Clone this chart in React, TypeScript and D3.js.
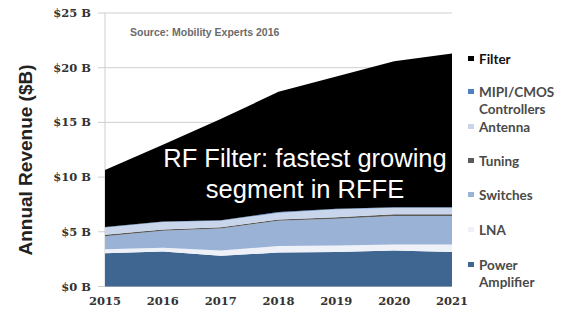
import React from "react"
import * as d3 from "d3"

// years on the x axis
const years = [2015, 2016, 2017, 2018, 2019, 2020, 2021]

// revenue per segment, $B
const powerAmp = [3.05, 3.2, 2.8, 3.1, 3.15, 3.3, 3.15]
const lna = [0.35, 0.35, 0.5, 0.6, 0.6, 0.55, 0.7]
const switches = [1.2, 1.55, 2.0, 2.3, 2.45, 2.6, 2.6]
const tuning = [0.12, 0.12, 0.12, 0.13, 0.14, 0.15, 0.15]
const antenna = [0.68, 0.68, 0.58, 0.62, 0.71, 0.6, 0.6]
const mipi = [0.05, 0.05, 0.05, 0.05, 0.05, 0.05, 0.05]
const filter = [5.2, 7.0, 9.25, 11.0, 12.1, 13.35, 14.05]

const seriesNames = ["Power Amplifier", "LNA", "Switches", "Tuning", "Antenna", "MIPI/CMOS Controllers", "Filter"]
const seriesColors = ["#3f6591", "#eef2f8", "#9bb2d7", "#5a5a5a", "#c8d5ea", "#4d80c0", "#000000"]
const yTicks = [0, 5, 10, 15, 20, 25]

const W = 563
const H = 315

export default function App() {
  const x = d3.scaleLinear().domain([2015, 2021]).range([105, 452])
  const y = d3.scaleLinear().domain([0, 25]).range([286.5, 13])

  const values = [powerAmp, lna, switches, tuning, antenna, mipi, filter]
  const rows = years.map((yr, i) => {
    const r: any = { year: yr }
    seriesNames.forEach((n, k) => (r[n] = values[k][i]))
    return r
  })
  const stacked = d3.stack().keys(seriesNames)(rows)
  const area = d3
    .area<any>()
    .x((d) => x(d.data.year))
    .y0((d) => y(d[0]))
    .y1((d) => y(d[1]))

  // legend, top to bottom
  const legend = [
    { name: "Filter", lines: ["Filter"], bold: true, y: 64 },
    { name: "MIPI/CMOS Controllers", lines: ["MIPI/CMOS", "Controllers"], y: 97 },
    { name: "Antenna", lines: ["Antenna"], y: 132 },
    { name: "Tuning", lines: ["Tuning"], y: 166 },
    { name: "Switches", lines: ["Switches"], y: 200 },
    { name: "LNA", lines: ["LNA"], y: 235 },
    { name: "Power Amplifier", lines: ["Power", "Amplifier"], y: 270 },
  ]

  return (
    <svg width={W} height={H} style={{ position: "absolute", left: 0, top: 0, background: "#fff" }}>
      {yTicks.map((t) => (
        <g key={t}>
          <line x1={98} x2={452} y1={y(t)} y2={y(t)} stroke="#cfcfcf" strokeWidth={1} />
          <text
            x={91}
            y={y(t) + 4}
            textAnchor="end"
            fontFamily="DejaVu Serif"
            fontWeight="bold"
            fontSize={11.5}
            fill="#333"
          >
            {`$${t} B`}
          </text>
        </g>
      ))}
      <line x1={105} x2={105} y1={13} y2={287} stroke="#cfcfcf" />

      {stacked.map((s, k) => (
        <path key={s.key} d={area(s) || ""} fill={seriesColors[k]} />
      ))}

      {years.map((yr) => (
        <text
          key={yr}
          x={x(yr)}
          y={305}
          textAnchor="middle"
          fontFamily="DejaVu Serif"
          fontWeight="bold"
          fontSize={11.5}
          fill="#333"
        >
          {yr}
        </text>
      ))}

      <text
        transform="translate(32,160) rotate(-90)"
        textAnchor="middle"
        fontFamily="Liberation Sans, Arial"
        fontWeight="bold"
        fontSize={19}
        fill="#222"
      >
        Annual Revenue ($B)
      </text>

      <text x={130} y={36} fontFamily="Liberation Sans, Arial" fontWeight="bold" fontSize={10.5} fill="#6b6b6b">
        Source: Mobility Experts 2016
      </text>

      <text x={305} y={167} textAnchor="middle" fontFamily="Liberation Sans, Arial" fontSize={25.5} fill="#fff">
        RF Filter: fastest growing
      </text>
      <text x={305} y={198} textAnchor="middle" fontFamily="Liberation Sans, Arial" fontSize={25.5} fill="#fff">
        segment in RFFE
      </text>

      {legend.map((l) => {
        const k = seriesNames.indexOf(l.name)
        return (
          <g key={l.name}>
            <rect x={468} y={l.y - 8} width={6} height={5} fill={seriesColors[k]} />
            {l.lines.map((ln, j) => (
              <text
                key={ln}
                x={479}
                y={l.y + j * 17}
                fontFamily="Lato, Open Sans"
                fontWeight="bold"
                fontSize={13.5}
                fill={l.bold ? "#111" : "#4a4a4a"}
              >
                {ln}
              </text>
            ))}
          </g>
        )
      })}
    </svg>
  )
}
